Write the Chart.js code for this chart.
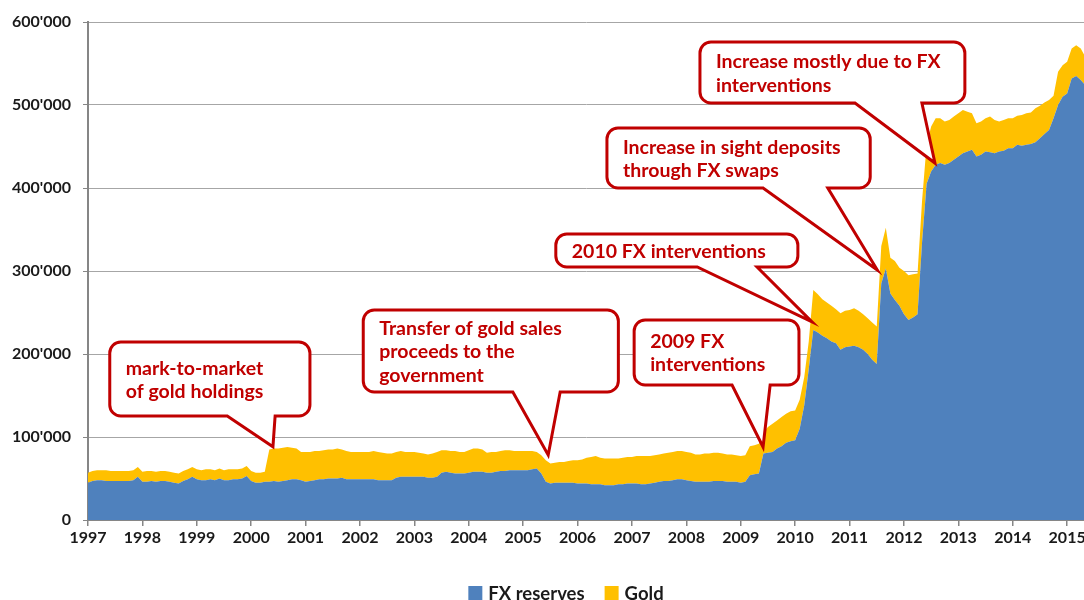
<!DOCTYPE html>
<html lang="en">
<head>
<meta charset="UTF-8">
<title>FX reserves and gold</title>
<script src="https://cdn.jsdelivr.net/npm/chart.js@4.4.0/dist/chart.umd.min.js"></script>
<style>
  html, body { margin: 0; padding: 0; background: #fff; }
  #wrap { width: 1084px; height: 600px; position: relative; }
</style>
</head>
<body>
<div id="wrap"><canvas id="reserves"></canvas></div>
<script>
// monthly values, Jan 1997 .. May 2015 (CHF millions)
const startYear = 1997;
const fxReserves = [
  45000, 47000, 48000, 48000, 47000, 47000, 47000, 47000, 47000, 47000, 48000, 52000,
  46000, 46000, 47000, 46000, 47000, 47000, 46000, 45000, 44000, 47000, 49000, 52000,
  49000, 48000, 48000, 49000, 48000, 50000, 48000, 48000, 49000, 49000, 50000, 53000,
  47000, 45000, 45000, 46000, 46000, 47000, 46000, 47000, 48000, 49000, 49000, 48000,
  46000, 47000, 48000, 49000, 49000, 50000, 50000, 50000, 51000, 49000, 49000, 49000,
  49000, 49000, 49000, 49000, 48000, 48000, 48000, 48000, 51000, 52000, 52000, 52000,
  52000, 52000, 52000, 51000, 51000, 52000, 57000, 58000, 57000, 56000, 56000, 56000,
  57000, 58000, 58000, 58000, 57000, 57000, 58000, 59000, 59000, 60000, 60000, 60000,
  60000, 60000, 61000, 62000, 56000, 46000, 44000, 45000, 45000, 45000, 45000, 45000,
  44000, 44000, 44000, 43000, 43000, 43000, 42000, 42000, 42000, 43000, 43000, 44000,
  44000, 44000, 43000, 43000, 44000, 45000, 46000, 47000, 47000, 48000, 49000, 49000,
  48000, 47000, 46000, 46000, 46000, 46000, 47000, 47000, 47000, 46000, 46000, 46000,
  45000, 46000, 54000, 55000, 56000, 80000, 81000, 82000, 86000, 89000, 93000, 95000,
  96000, 110000, 138000, 182000, 229000, 226000, 222000, 219000, 215000, 213000, 205000, 208000,
  209000, 210000, 208000, 205000, 200000, 193000, 188000, 285000, 303000, 273000, 265000, 258000,
  248000, 241000, 244000, 248000, 335000, 405000, 420000, 428000, 430000, 428000, 430000, 434000,
  438000, 442000, 444000, 446000, 438000, 440000, 444000, 443000, 442000, 444000, 445000, 448000,
  448000, 452000, 451000, 452000, 453000, 455000, 460000, 465000, 470000, 484000, 500000, 510000,
  514000, 532000, 535000, 530000, 524000
];
const gold = [
  12000, 12000, 12000, 12000, 13000, 12000, 12000, 12000, 12000, 12000, 12000, 12000,
  12000, 13000, 12000, 12000, 12000, 12000, 12000, 12000, 12000, 12000, 12000, 12000,
  12000, 12000, 13000, 12000, 12000, 12000, 12000, 13000, 12000, 12000, 12000, 12000,
  12000, 12000, 12000, 12000, 39000, 39000, 40000, 40000, 40000, 38000, 37000, 34000,
  36000, 35000, 35000, 34000, 35000, 35000, 35000, 36000, 34000, 34000, 33000, 33000,
  33000, 33000, 33000, 34000, 34000, 33000, 32000, 32000, 31000, 31000, 30000, 30000,
  30000, 29000, 28000, 28000, 29000, 30000, 27000, 26000, 26000, 27000, 26000, 26000,
  27000, 28000, 28000, 27000, 24000, 25000, 24000, 24000, 25000, 24000, 23000, 23000,
  23000, 23000, 22000, 20000, 22000, 26000, 24000, 24000, 25000, 25000, 26000, 27000,
  28000, 29000, 31000, 33000, 34000, 32000, 32000, 32000, 32000, 31000, 32000, 32000,
  32000, 33000, 34000, 34000, 33000, 33000, 33000, 33000, 34000, 34000, 34000, 34000,
  34000, 34000, 33000, 33000, 34000, 34000, 34000, 34000, 33000, 33000, 33000, 32000,
  32000, 32000, 35000, 35000, 36000, 26000, 31000, 34000, 34000, 35000, 35000, 36000,
  36000, 35000, 34000, 33000, 48000, 46000, 44000, 43000, 43000, 41000, 44000, 44000,
  44000, 45000, 44000, 43000, 43000, 45000, 45000, 45000, 49000, 43000, 47000, 46000,
  52000, 54000, 52000, 49000, 50000, 47000, 54000, 56000, 54000, 52000, 52000, 52000,
  52000, 52000, 48000, 44000, 40000, 40000, 40000, 43000, 40000, 36000, 37000, 36000,
  36000, 35000, 37000, 38000, 38000, 41000, 39000, 38000, 36000, 27000, 40000, 38000,
  38000, 36000, 37000, 38000, 34000
];
const months = fxReserves.map((_, i) => startYear + i / 12);
const seriesNames = ['FX reserves', 'Gold'];

// callout boxes in data units: box [left year, right year, top value, bottom value]
const callouts = [
  { lines: ['mark-to-market', 'of gold holdings'], box: [1997.40, 2001.08, 214500, 125300], base: [1999.56, 2000.44], tip: [2000.40, 88300] },
  { lines: ['Transfer of gold sales', 'proceeds to the', 'government'], box: [2002.06, 2006.75, 253000, 154200], base: [2004.81, 2005.68], tip: [2005.46, 78300] },
  { lines: ['2009 FX', 'interventions'], box: [2007.04, 2010.07, 241000, 162700], base: [2008.84, 2009.54], tip: [2009.41, 88000] },
  { lines: ['2010 FX interventions'], box: [2005.60, 2010.05, 344600, 304800], base: [2008.20, 2009.30], tip: [2010.31, 238600] },
  { lines: ['Increase in sight deposits', 'through FX swaps'], box: [2006.54, 2011.38, 472300, 400000], base: [2009.41, 2010.60], tip: [2011.51, 301200] },
  { lines: ['Increase mostly due to FX', 'interventions'], box: [2008.25, 2013.12, 575900, 502400], base: [2011.10, 2012.33], tip: [2012.57, 430100] }
];

const FONT = 'Lato, "Open Sans", sans-serif';
const BLUE = '#4F81BD', YELLOW = '#FFC000', RED = '#C00000';
const fmt = v => String(v).replace(/\B(?=(\d{3})+(?!\d))/g, "'");

const calloutPlugin = {
  id: 'callouts',
  afterDatasetsDraw(chart) {
    const { ctx, scales: { x, y } } = chart;
    ctx.save();
    callouts.forEach(c => {
      const l = x.getPixelForValue(c.box[0]), r = x.getPixelForValue(c.box[1]);
      const t = y.getPixelForValue(c.box[2]), b = y.getPixelForValue(c.box[3]);
      const bl = x.getPixelForValue(c.base[0]), br = x.getPixelForValue(c.base[1]);
      const tx = x.getPixelForValue(c.tip[0]), ty = y.getPixelForValue(c.tip[1]);
      const rad = 11;
      ctx.beginPath();
      ctx.moveTo(l + rad, t);
      ctx.arcTo(r, t, r, b, rad);
      ctx.arcTo(r, b, l, b, rad);
      ctx.lineTo(br, b);
      ctx.lineTo(tx, ty);
      ctx.lineTo(bl, b);
      ctx.arcTo(l, b, l, t, rad);
      ctx.arcTo(l, t, r, t, rad);
      ctx.closePath();
      ctx.fillStyle = '#fff';
      ctx.fill();
      ctx.lineWidth = 3;
      ctx.lineJoin = 'miter';
      ctx.strokeStyle = RED;
      ctx.stroke();

      ctx.fillStyle = RED;
      ctx.font = 'bold 19.5px ' + FONT;
      ctx.textBaseline = 'middle';
      ctx.textAlign = 'left';
      const lh = 23.5;
      const y0 = (t + b) / 2 + 1 - (c.lines.length - 1) * lh / 2;
      c.lines.forEach((s, i) => ctx.fillText(s, l + 16, y0 + i * lh));
    });
    ctx.restore();
  }
};

const legendPlugin = {
  id: 'bottomLegend',
  afterDraw(chart) {
    const { ctx } = chart;
    ctx.save();
    ctx.font = 'bold 18.5px ' + FONT;
    ctx.textBaseline = 'middle';
    const box = 14, gap = 6, between = 20, cy = 593;
    const items = chart.data.datasets.map(d => ({ text: d.label, color: d.backgroundColor, w: box + gap + ctx.measureText(d.label).width }));
    const total = items.reduce((s, it) => s + it.w, 0) + between * (items.length - 1);
    let x = 566 - total / 2;
    items.forEach(it => {
      ctx.fillStyle = it.color;
      ctx.fillRect(x, cy - box / 2, box, box);
      ctx.fillStyle = '#1a1a1a';
      ctx.fillText(it.text, x + box + gap, cy + 1);
      x += it.w + between;
    });
    ctx.restore();
  }
};

new Chart(document.getElementById('reserves'), {
  type: 'line',
  data: {
    datasets: [
      { label: seriesNames[0], data: fxReserves.map((v, i) => ({ x: months[i], y: v })), backgroundColor: BLUE, borderWidth: 0, pointRadius: 0, fill: 'origin' },
      { label: seriesNames[1], data: gold.map((v, i) => ({ x: months[i], y: v })), backgroundColor: YELLOW, borderWidth: 0, pointRadius: 0, fill: '-1' }
    ]
  },
  options: {
    responsive: true,
    maintainAspectRatio: false,
    animation: false,
    layout: { padding: { top: 22, right: 0, bottom: 50, left: 0 } },
    plugins: { legend: { display: false }, tooltip: { enabled: false } },
    scales: {
      x: {
        type: 'linear', min: 1997, max: 2015.31,
        ticks: { stepSize: 1, includeBounds: false, autoSkip: false, maxRotation: 0, padding: 2, color: '#1a1a1a', font: { family: FONT, size: 16, weight: 'bold' }, callback: v => String(v) },
        grid: { drawOnChartArea: false, drawTicks: true, tickLength: 6, color: '#868686', lineWidth: 1.5 },
        border: { color: '#868686', width: 2 },
        afterFit: s => { s.height = 30; s.paddingLeft = 0; s.paddingRight = 0; }
      },
      y: {
        stacked: true, min: 0, max: 600000,
        ticks: { stepSize: 100000, padding: 12, color: '#1a1a1a', font: { family: FONT, size: 16, weight: 'bold' }, callback: v => fmt(v) },
        grid: { color: '#A6A6A6', lineWidth: 1, tickLength: 5, tickColor: '#868686' },
        border: { color: '#868686', width: 2 },
        afterFit: s => { s.width = 88; }
      }
    }
  },
  plugins: [calloutPlugin, legendPlugin]
});
</script>
</body>
</html>
